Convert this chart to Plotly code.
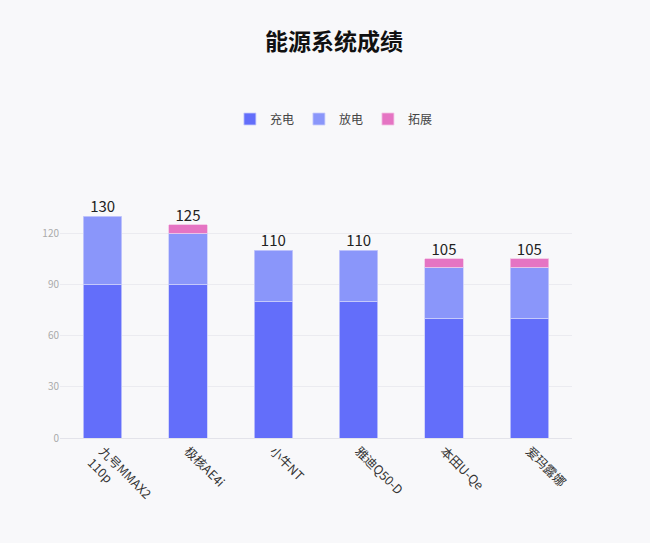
import plotly.graph_objects as go

# 数据
brands = ["九号MMAX2<br>110p", "极核AE4i", "小牛NT", "雅迪Q50-D", "本田U-Qe", "爱玛露娜"]
charge = [90, 90, 80, 80, 70, 70]      # 充电
discharge = [40, 30, 30, 30, 30, 30]   # 放电
extend = [0, 5, 0, 0, 5, 5]            # 拓展
y_ticks = [0, 30, 60, 90, 120, 130]
y_tick_text = ["0", "30", "60", "90", "120", ""]

totals = [c + d + e for c, d, e in zip(charge, discharge, extend)]

fig = go.Figure()
fig.add_trace(go.Bar(x=brands, y=charge, name="充电",
                     marker=dict(color="#636efa", line=dict(color="#c9cdfb", width=0.8))))
fig.add_trace(go.Bar(x=brands, y=discharge, name="放电",
                     marker=dict(color="#8a96fa", line=dict(color="#c9cdfb", width=0.8))))
# 0 值不画，避免顶部出现细线
fig.add_trace(go.Bar(x=brands, y=[v if v else None for v in extend], name="拓展",
                     marker=dict(color="#e574c3", line=dict(color="#f3c3e4", width=0.8))))

# 总分标签
fig.add_trace(go.Scatter(x=brands, y=totals, mode="text", text=[str(t) for t in totals],
                         textposition="top center", showlegend=False, hoverinfo="skip",
                         cliponaxis=False,
                         textfont=dict(size=15, color="#222")))

fig.update_layout(
    barmode="stack",
    bargap=0.55,
    width=650,
    height=543,
    paper_bgcolor="#f8f8fa",
    plot_bgcolor="#f8f8fa",
    font=dict(family="Noto Sans CJK SC, sans-serif"),
    title=dict(text="<b>能源系统成绩</b>", x=0.514, xanchor="center",
               y=1 - 42 / 543, yanchor="middle",
               font=dict(size=23, color="#111")),
    legend=dict(orientation="h", x=0.535, xanchor="center", y=1.437, yanchor="middle",
                font=dict(size=12, color="#444"), itemwidth=30, traceorder="normal"),
    margin=dict(l=60, r=78, t=216, b=105),
    xaxis=dict(tickangle=45, tickfont=dict(size=12.5, color="#333"),
               showline=True, linecolor="#e3e3ea", linewidth=1, ticks=""),
    yaxis=dict(range=[0, 130], tickvals=y_ticks, ticktext=y_tick_text,
               tickfont=dict(size=10, color="#aaa"), gridcolor="#ebebf0",
               zeroline=False, ticks=""),
)

fig.write_html("out.html", config={"displayModeBar": False},
               post_script="document.body.style.margin='0';document.body.style.background='#f8f8fa';")
